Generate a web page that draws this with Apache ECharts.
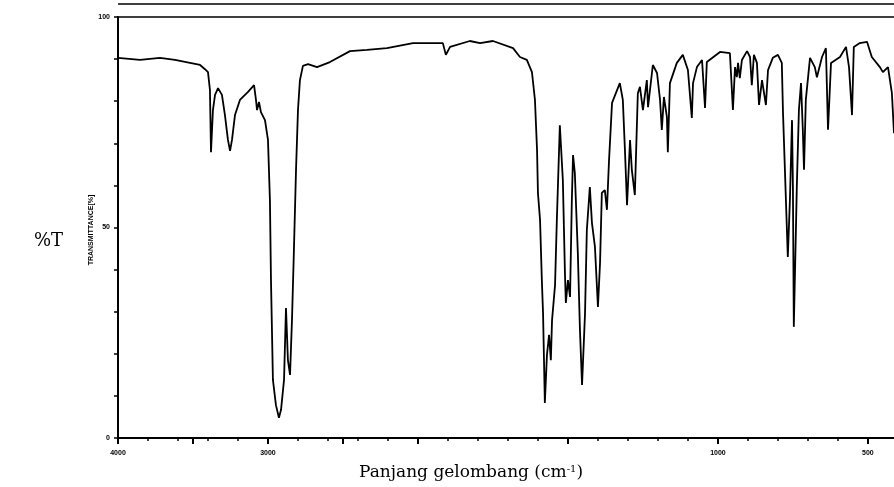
<!DOCTYPE html>
<html>
<head>
    <meta charset="utf-8">
    <title>Spektrum IR</title>
    <script src="https://cdn.jsdelivr.net/npm/echarts@6/dist/echarts.min.js"></script>
</head>
<body style="margin:0;background:#fff;">
<div id="main" style="width: 894px;height:487px;"></div>
<script type="text/javascript">
    // bilangan gelombang (cm-1) dan %T
    const wavenumber = [
        4000, 3853, 3720, 3620, 3520, 3453, 3420, 3400, 3387, 3380, 3367, 3353, 3333, 3307, 3287, 3267,
        3253, 3240, 3220, 3187, 3133, 3093, 3080, 3073, 3060, 3047, 3020, 3000, 2987, 2980, 2967, 2947,
        2927, 2913, 2893, 2880, 2867, 2853, 2840, 2827, 2813, 2800, 2787, 2767, 2733, 2673, 2587, 2453,
        2340, 2207, 2033, 2000, 1917, 1907, 1893, 1827, 1793, 1750, 1683, 1660, 1637, 1620, 1610, 1603,
        1600, 1593, 1587, 1583, 1577, 1570, 1563, 1557, 1553, 1543, 1537, 1527, 1517, 1510, 1507, 1500,
        1493, 1487, 1483, 1477, 1467, 1460, 1453, 1443, 1437, 1427, 1420, 1410, 1400, 1393, 1387, 1377,
        1370, 1363, 1353, 1327, 1317, 1310, 1303, 1293, 1287, 1277, 1267, 1260, 1250, 1237, 1233, 1217,
        1203, 1193, 1187, 1180, 1170, 1167, 1160, 1137, 1117, 1100, 1087, 1083, 1070, 1053, 1043, 1037,
        993, 960, 950, 943, 937, 933, 927, 920, 903, 893, 887, 880, 870, 863, 853, 840,
        833, 817, 800, 787, 783, 777, 770, 767, 760, 753, 750, 747, 740, 737, 730, 723,
        717, 713, 707, 693, 677, 670, 653, 640, 633, 623, 617, 593, 573, 563, 553, 547,
        527, 503, 487, 460, 450, 433, 420, 413
    ];
    const transmittance = [
        90.3, 89.8, 90.3, 89.8, 89.1, 88.6, 87.6, 86.9, 82.7, 67.9, 77.9, 81.5, 83.1, 81.5, 76.7, 70.8,
        68.2, 70.8, 76.7, 80.3, 82.2, 83.8, 80.3, 77.9, 79.8, 77.4, 75.5, 70.8, 56.5, 37.5, 13.8, 7.8,
        4.8, 6.7, 13.8, 30.9, 18.5, 15.0, 28.0, 44.7, 63.7, 77.9, 85.0, 88.4, 88.8, 88.1, 89.3, 91.9,
        92.2, 92.6, 93.8, 93.8, 93.8, 91.0, 92.9, 94.3, 93.8, 94.3, 92.6, 90.5, 89.8, 86.9, 80.3, 68.4,
        58.2, 51.8, 37.5, 29.7, 8.3, 19.7, 24.5, 18.5, 28.0, 36.3, 51.8, 74.3, 61.3, 39.2, 32.1, 37.5,
        33.5, 56.5, 67.2, 62.9, 43.9, 25.7, 12.6, 29.7, 49.4, 59.6, 51.1, 45.4, 31.1, 41.6, 58.2, 58.9,
        54.2, 66.0, 79.6, 84.3, 80.3, 68.4, 55.3, 70.8, 63.7, 57.7, 81.9, 83.4, 77.9, 85.0, 78.6, 88.6,
        86.7, 80.3, 73.2, 81.0, 76.2, 67.9, 84.3, 89.1, 91.0, 87.4, 76.0, 84.3, 88.1, 89.8, 78.4, 89.3,
        91.7, 91.4, 77.9, 88.1, 85.7, 89.1, 85.5, 89.8, 91.9, 90.5, 83.8, 91.0, 89.1, 79.1, 85.0, 79.1,
        87.4, 90.3, 91.0, 89.1, 77.2, 64.4, 49.4, 43.0, 56.5, 75.5, 59.6, 26.4, 49.4, 59.6, 77.9, 84.3,
        73.2, 63.7, 80.3, 90.3, 88.1, 85.7, 90.5, 92.6, 73.2, 89.1, 89.1, 90.5, 92.9, 88.1, 76.7, 92.9,
        93.8, 94.1, 90.5, 88.1, 86.9, 88.1, 81.9, 72.4
    ];
    const majorTicks = [4000, 3500, 3000, 2500, 2000, 1500, 1000, 500];
    const tickLabels = [4000, 3000, 1000, 500];

    // sumbu x: 4000-2000 skala setengah, 2000-400 skala penuh
    function toAxis(w) {
        return w >= 2000 ? (4000 - w) / 2 : 1000 + (2000 - w);
    }
    function fromAxis(p) {
        return p <= 1000 ? 4000 - 2 * p : 2000 - (p - 1000);
    }

    const seriesData = wavenumber.map((w, i) => [toAxis(w), transmittance[i]]);
    const minorTicks = [];
    for (let p = 100; p < 2587; p += 100) minorTicks.push(p);

    const smallFont = {fontSize: 7, fontWeight: 'bold', color: '#000', fontFamily: 'Liberation Sans'};
    const serif = 'DejaVu Serif';

    const myChart = echarts.init(document.getElementById('main'));
    const option = {
        animation: false,
        backgroundColor: '#fff',
        grid: {left: 118, top: 17, right: 0, bottom: 49},
        xAxis: [
            {
                type: 'value', min: 0, max: 2587, position: 'bottom',
                axisLine: {lineStyle: {color: '#000', width: 2}},
                axisTick: {customValues: majorTicks.map(toAxis), length: 6, lineStyle: {color: '#000', width: 2}},
                axisLabel: {
                    customValues: tickLabels.map(toAxis), margin: 12, ...smallFont,
                    formatter: v => String(Math.round(fromAxis(v)))
                },
                splitLine: {show: false},
                name: 'Panjang gelombang (cm{sup|-1})',
                nameLocation: 'middle', nameGap: 26,
                nameTextStyle: {
                    fontFamily: serif, fontSize: 17, color: '#000', padding: [0, 70, 0, 0],
                    rich: {sup: {fontFamily: serif, fontSize: 10, color: '#000', verticalAlign: 'top', padding: [0, 0, 8, 0]}}
                }
            },
            {
                type: 'value', min: 0, max: 2587, position: 'bottom',
                axisLine: {show: false},
                axisTick: {customValues: minorTicks, length: 3, lineStyle: {color: '#000', width: 1.5}},
                axisLabel: {show: false},
                splitLine: {show: false}
            },
            {
                type: 'value', min: 0, max: 2587, position: 'top',
                axisLine: {lineStyle: {color: '#000', width: 1.5}},
                axisTick: {show: false},
                axisLabel: {show: false},
                splitLine: {show: false}
            }
        ],
        yAxis: {
            type: 'value', min: 0, max: 100, interval: 10,
            axisLine: {show: true, lineStyle: {color: '#000', width: 2}},
            axisTick: {show: true, length: 4, lineStyle: {color: '#000', width: 1.5}},
            axisLabel: {
                margin: 8, ...smallFont,
                formatter: v => (v % 50 === 0 ? String(v) : '')
            },
            splitLine: {show: false}
        },
        graphic: [
            {
                type: 'line', shape: {x1: 118, y1: 4, x2: 894, y2: 4},
                style: {stroke: '#000', lineWidth: 1.5}
            },
            {
                type: 'text', left: 34, top: 232,
                style: {text: '%T', fontFamily: serif, fontSize: 18, fill: '#000'}
            },
            {
                type: 'text', x: 91, y: 230, rotation: Math.PI / 2,
                style: {
                    text: 'TRANSMITTANCE[%]', fontSize: 7, fontWeight: 'bold', fill: '#000',
                    fontFamily: 'Liberation Sans', align: 'center', verticalAlign: 'middle'
                }
            }
        ],
        series: [
            {
                type: 'line',
                data: seriesData,
                showSymbol: false,
                lineStyle: {color: '#000', width: 1.8},
                silent: true
            }
        ]
    };
    myChart.setOption(option);
</script>
</body>
</html>
